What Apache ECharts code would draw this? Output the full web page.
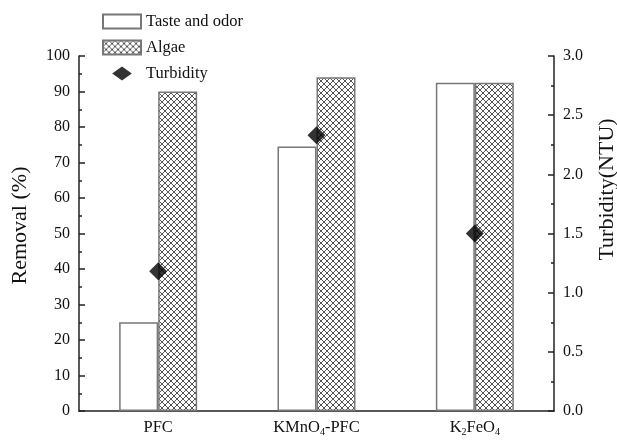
<!DOCTYPE html>
<html>
<head>
<meta charset="utf-8">
<script src="https://cdn.jsdelivr.net/npm/echarts@6/dist/echarts.min.js"></script>
<style>html,body{margin:0;padding:0;background:#fff}#c{width:617px;height:440px}</style>
</head>
<body>
<div id="c"></div>
<script>
var categories = ['PFC', 'KMnO4-PFC', 'K2FeO4'];
var tasteOdor = [25, 74.5, 92.5];
var algae = [90, 94, 92.5];
var turbidity = [1.18, 2.33, 1.5];
var leftTicks = [0, 100, 10];
var rightTicks = [0, 3, 0.5];

var FONT = '"Liberation Serif", "Times New Roman", serif';

function hatch() {
  var s = 6, cv = document.createElement('canvas');
  cv.width = s; cv.height = s;
  var g = cv.getContext('2d');
  g.fillStyle = '#fff'; g.fillRect(0, 0, s, s);
  g.strokeStyle = '#555'; g.lineWidth = 1;
  g.beginPath();
  g.moveTo(0, 0); g.lineTo(s, s);
  g.moveTo(s, 0); g.lineTo(0, s);
  g.moveTo(-s/2, s/2); g.lineTo(s/2, 3*s/2);
  g.moveTo(s/2, -s/2); g.lineTo(3*s/2, s/2);
  g.moveTo(s/2, -s/2); g.lineTo(-s/2, s/2);
  g.moveTo(3*s/2, s/2); g.lineTo(s/2, 3*s/2);
  g.stroke();
  return cv;
}
var pat = { image: hatch(), repeat: 'repeat' };

function subLabel(v) {
  return v.replace(/([A-Za-z])(\d)/g, '$1}{s|$2}{n|').replace(/^/, '{n|') + '}';
}

var chart = echarts.init(document.getElementById('c'), null, { renderer: 'canvas' });
chart.setOption({
  animation: false,
  backgroundColor: '#fff',
  textStyle: { fontFamily: FONT },
  grid: { left: 79, right: 63, top: 56, bottom: 29, containLabel: false, outerBoundsMode: 'none' },
  legend: {
    orient: 'vertical', left: 97, top: 8,
    itemWidth: 38, itemHeight: 14, itemGap: 9,
    textStyle: { fontFamily: FONT, fontSize: 16.5, color: '#111', lineHeight: 16.5 },
    data: [
      { name: 'Taste and odor', icon: 'rect' },
      { name: 'Algae', icon: 'rect' },
      { name: 'Turbidity', icon: 'path://M10.5 0L21 7.5L10.5 15L0 7.5Z' }
    ]
  },
  xAxis: {
    type: 'category', data: categories,
    axisLine: { lineStyle: { color: '#222', width: 1.5 } },
    axisTick: { show: false },
    axisLabel: {
      margin: 8, color: '#111', interval: 0,
      formatter: subLabel,
      rich: {
        n: { fontFamily: FONT, fontSize: 16.5, color: '#111' },
        s: { fontFamily: FONT, fontSize: 10, color: '#111', verticalAlign: 'bottom', padding: [8, 0, 0, 0] }
      }
    }
  },
  yAxis: [{
    type: 'value', min: leftTicks[0], max: leftTicks[1], interval: leftTicks[2],
    name: 'Removal (%)', nameLocation: 'middle', nameGap: 48,
    nameTextStyle: { fontFamily: FONT, fontSize: 22, color: '#111', padding: [0, 0, 0, 16] },
    axisLine: { show: true, lineStyle: { color: '#222', width: 1.5 } },
    axisTick: { show: true, inside: true, length: 6, lineStyle: { color: '#222', width: 1.5 } },
    minorTick: { show: true, splitNumber: 2, length: 3, lineStyle: { color: '#222', width: 1.5 } },
    axisLabel: { fontFamily: FONT, fontSize: 16, color: '#111', margin: 9 },
    splitLine: { show: false }
  }, {
    type: 'value', min: rightTicks[0], max: rightTicks[1], interval: rightTicks[2],
    position: 'right',
    name: 'Turbidity(NTU)', nameLocation: 'middle', nameGap: 42, nameRotate: 90,
    nameTextStyle: { fontFamily: FONT, fontSize: 22, color: '#111', padding: [0, 0, 0, 88] },
    axisLine: { show: true, lineStyle: { color: '#222', width: 1.5 } },
    axisTick: { show: true, inside: true, length: 6, lineStyle: { color: '#222', width: 1.5 } },
    minorTick: { show: true, splitNumber: 2, length: 3, lineStyle: { color: '#222', width: 1.5 } },
    axisLabel: { fontFamily: FONT, fontSize: 16, color: '#111', margin: 9, formatter: function (v) { return v.toFixed(1); } },
    splitLine: { show: false }
  }],
  series: [{
    name: 'Taste and odor', type: 'bar', data: tasteOdor,
    barWidth: 39, barGap: '0%',
    itemStyle: { color: '#fff', borderColor: '#777', borderWidth: 1.5 }
  }, {
    name: 'Algae', type: 'bar', data: algae,
    barWidth: 39,
    itemStyle: { color: pat, borderColor: '#777', borderWidth: 1.5 }
  }, {
    name: 'Turbidity', type: 'scatter', yAxisIndex: 1, data: turbidity,
    symbol: 'diamond', symbolSize: 18, z: 5,
    itemStyle: { color: '#000' }
  }]
});
</script>
</body>
</html>
